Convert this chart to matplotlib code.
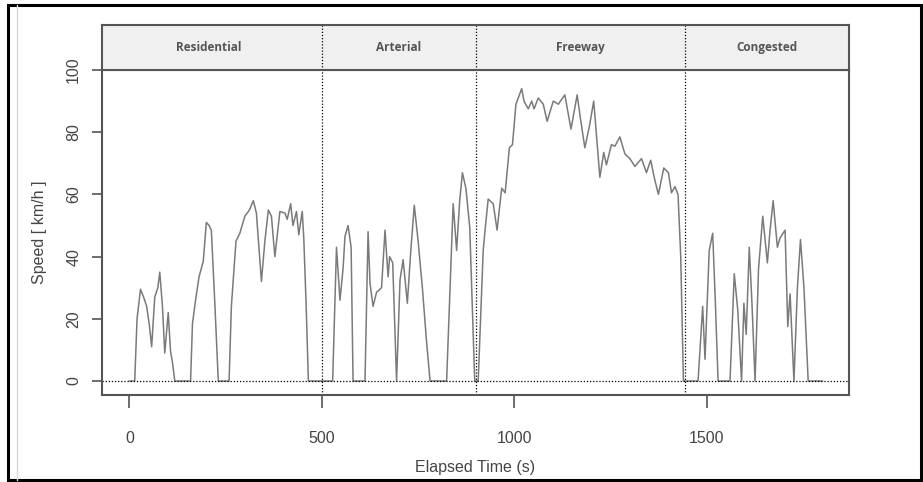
import matplotlib
matplotlib.use('Agg')
import matplotlib.pyplot as plt
from matplotlib.patches import Rectangle

# Datos (tiempo en s, velocidad en km/h)
time_s = [0, 14, 20, 29, 37, 45, 52, 58, 66, 74, 79, 86, 92, 101, 107, 112, 118,
          159, 164, 172, 181, 192, 200, 207, 213, 222, 231,
          259, 265, 277, 287, 300, 312, 322, 330, 337, 343, 352, 361, 369, 378, 391, 404, 410,
          419, 425, 434, 440, 449, 453, 459, 465,
          528, 538, 547, 555, 560, 568, 576, 581,
          612, 620, 625, 633, 642, 655, 664, 672, 676, 684, 694,
          703, 711, 722, 731, 740, 750, 761, 772, 781,
          824, 841, 850, 858, 865, 874, 884, 897,
          906, 919, 925, 932, 945, 955, 967, 976, 987, 995, 1004, 1019, 1025, 1036,
          1045, 1051, 1062, 1075, 1085, 1101, 1114, 1131, 1147, 1163, 1172, 1183,
          1195, 1206, 1222, 1232, 1239, 1252, 1261, 1274, 1287, 1300, 1313, 1330,
          1343, 1354, 1364, 1374, 1388, 1400, 1408, 1417, 1425, 1432, 1439,
          1477, 1489, 1495, 1506, 1515, 1522, 1529,
          1560, 1571, 1580, 1590, 1596, 1602, 1610, 1617, 1625,
          1634, 1645, 1657, 1664, 1672, 1683, 1690, 1703, 1710, 1716, 1726,
          1735, 1743, 1752, 1763, 1800]
speed_kmh = [0, 0, 20, 29.5, 27, 24, 18, 11, 27, 30, 35, 24, 9, 22, 9.5, 6, 0,
             0, 18.5, 26, 33.5, 38.5, 51, 50, 48.5, 25, 0,
             0, 24, 45, 47.5, 53, 55, 58, 54, 42, 32, 45, 55, 53, 40, 54.5, 54, 52,
             57, 50, 54.5, 47, 54.5, 46, 25, 0,
             0, 43, 26, 36, 46.5, 50, 43, 0,
             0, 48, 31.5, 24, 28.5, 30, 48.5, 33.5, 40, 38, 0,
             32.5, 39, 25, 42, 56.5, 45, 30, 12.5, 0,
             0, 57, 42, 58, 67, 62, 49.5, 0,
             0, 42, 50, 58.5, 57, 48.5, 62, 60.5, 75, 76, 89, 94, 90, 87.5,
             90, 87.5, 91, 89, 83.5, 90, 89, 92, 81, 92, 84, 75,
             82, 90, 65.5, 73.5, 69.5, 76, 75.5, 78.5, 73, 71.5, 69, 71.5,
             67, 71, 65, 60, 68.5, 67, 60.5, 62.5, 60, 40, 0,
             0, 24, 7, 42, 47.5, 25, 0,
             0, 34.5, 23, 0, 25, 15, 43, 25, 0,
             36, 53, 38, 48.5, 58, 43, 46, 48.5, 17.5, 28, 0,
             30, 45.5, 30, 0, 0]

segment_names = ['Residential', 'Arterial', 'Freeway', 'Congested']
segment_breaks = [500, 900, 1442]
label_pos = [205, 700, 1171, 1655]

plt.rcParams['font.family'] = ['Liberation Sans', 'DejaVu Sans']

fig = plt.figure(figsize=(9.23, 4.82), dpi=100)

# marco exterior
fig.patches.append(Rectangle((8 / 923, 2 / 482), 913 / 923, 475 / 482, transform=fig.transFigure,
                             fill=False, edgecolor='black', linewidth=2.2))
fig.lines.append(plt.Line2D([17 / 923, 17 / 923], [2 / 482, 477 / 482], transform=fig.transFigure,
                            color='#d8d8d8', linewidth=1))

ax = fig.add_axes([102 / 923, 1 - 395 / 482, 747 / 923, 325 / 482])
strip = fig.add_axes([102 / 923, 1 - 70 / 482, 747 / 923, 45 / 482], sharex=ax)

frame_col = '#555555'
text_col = '#444444'

ax.plot(time_s, speed_kmh, color='#7a7a7a', linewidth=1.1)
ax.axhline(0, color='black', linestyle=(0, (1, 1.5)), linewidth=0.9)
for b in segment_breaks:
    ax.axvline(b, color='black', linestyle=(0, (1, 1.5)), linewidth=0.9)
    strip.axvline(b, color='black', linestyle=(0, (1, 1.5)), linewidth=0.9)

ax.set_xlim(-71, 1869)
ax.set_ylim(-4.5, 100)
ax.set_xticks([0, 500, 1000, 1500])
ax.set_yticks([0, 20, 40, 60, 80, 100])
ax.tick_params(axis='x', length=9, width=1.2, color=frame_col, labelcolor=text_col,
               labelsize=11.5, pad=17)
ax.tick_params(axis='y', length=7, width=1.2, color=frame_col, labelcolor=text_col,
               labelsize=11.5, pad=8, labelrotation=90)
for lab in ax.get_yticklabels():
    lab.set_va('center')
for sp in ax.spines.values():
    sp.set_color(frame_col)
    sp.set_linewidth(1.5)
ax.set_xlabel('Elapsed Time (s)', color=text_col, fontsize=11.5, labelpad=10)
ax.set_ylabel('Speed [ km/h ]', color=text_col, fontsize=11.5, labelpad=14)

strip.set_facecolor('#f0f0f0')
strip.set_ylim(0, 1)
strip.tick_params(left=False, bottom=False, labelleft=False, labelbottom=False)
for sp in strip.spines.values():
    sp.set_color(frame_col)
    sp.set_linewidth(1.5)
for name, xp in zip(segment_names, label_pos):
    strip.text(xp, 0.5, name, ha='center', va='center', fontsize=8.5, fontweight='bold',
               color='#555555', family='Open Sans')

fig.savefig('out.png', dpi=100)
